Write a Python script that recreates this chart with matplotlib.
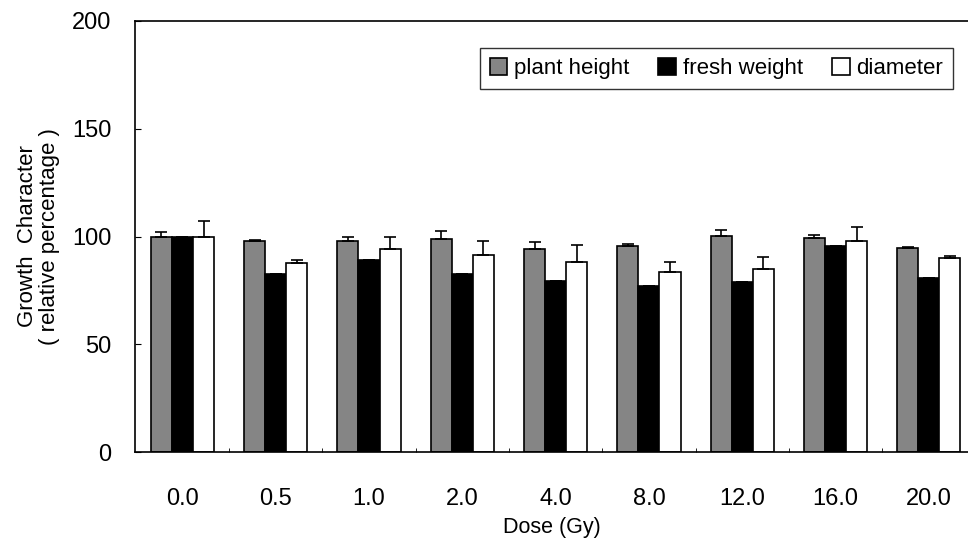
import numpy as np
import matplotlib.pyplot as plt

plt.rcParams['font.family'] = ['Liberation Sans', 'DejaVu Sans']

# data (relative percentage of control)
doses = ['0.0', '0.5', '1.0', '2.0', '4.0', '8.0', '12.0', '16.0', '20.0']
plant_height = [100.0, 97.7, 98.0, 98.9, 94.3, 95.7, 100.3, 99.4, 94.8]
plant_height_err = [2.3, 0.5, 2.0, 3.5, 3.0, 1.0, 2.8, 1.2, 0.3]
fresh_weight = [100.0, 82.8, 88.9, 82.5, 79.2, 76.9, 78.9, 95.7, 80.9]
fresh_weight_err = [0, 0, 0, 0, 0, 0, 0, 0, 0]
diameter = [100.0, 87.5, 94.3, 91.5, 88.0, 83.4, 84.9, 97.7, 89.8]
diameter_err = [7.4, 1.7, 5.4, 6.2, 8.0, 5.0, 5.7, 6.6, 1.2]

x = np.arange(len(doses))
w = 0.226

fig = plt.figure(figsize=(9.68, 5.45), dpi=100)
ax = fig.add_axes([0.1395, 0.1706, 0.8605, 0.7909])

series = [
    (plant_height, plant_height_err, '#858585', 'plant height'),
    (fresh_weight, fresh_weight_err, 'black', 'fresh weight'),
    (diameter, diameter_err, 'white', 'diameter'),
]
for i, (vals, err, col, lab) in enumerate(series):
    err = np.array(err)
    ax.bar(x + (i - 1) * w, vals, w, color=col, edgecolor='black', linewidth=1.2,
           label=lab, yerr=[np.zeros_like(err), err],
           error_kw=dict(ecolor='black', capsize=4, elinewidth=1.2, capthick=1.2))

ax.set_xlim(-0.508, 8.42)
ax.set_ylim(0, 200)
ax.set_yticks([0, 50, 100, 150, 200])
ax.set_xticks(x)
ax.set_xticklabels(doses)
ax.set_xticks(x[:-1] + 0.5, minor=True)
ax.tick_params(axis='x', which='major', length=0, pad=26, labelsize=17)
ax.tick_params(axis='x', which='minor', direction='in', length=3)
ax.tick_params(axis='y', direction='in', length=4, pad=17, labelsize=17)
ax.spines['right'].set_visible(False)
for s in ['left', 'bottom', 'top']:
    ax.spines[s].set_linewidth(1.2)

ax.set_xlabel('Dose (Gy)', fontsize=15.5, labelpad=5)
ax.set_ylabel('Growth  Character\n( relative percentage )', fontsize=16,
              labelpad=9, linespacing=1.05)

leg = ax.legend(loc='upper right', bbox_to_anchor=(0.982, 0.937), ncol=3,
                frameon=True, fancybox=False, edgecolor='black', fontsize=16,
                handlelength=0.8, handleheight=0.8, handletextpad=0.3,
                columnspacing=1.3, borderaxespad=0, borderpad=0.45)
leg.get_frame().set_linewidth(1.0)

fig.savefig('out.png', dpi=100)
